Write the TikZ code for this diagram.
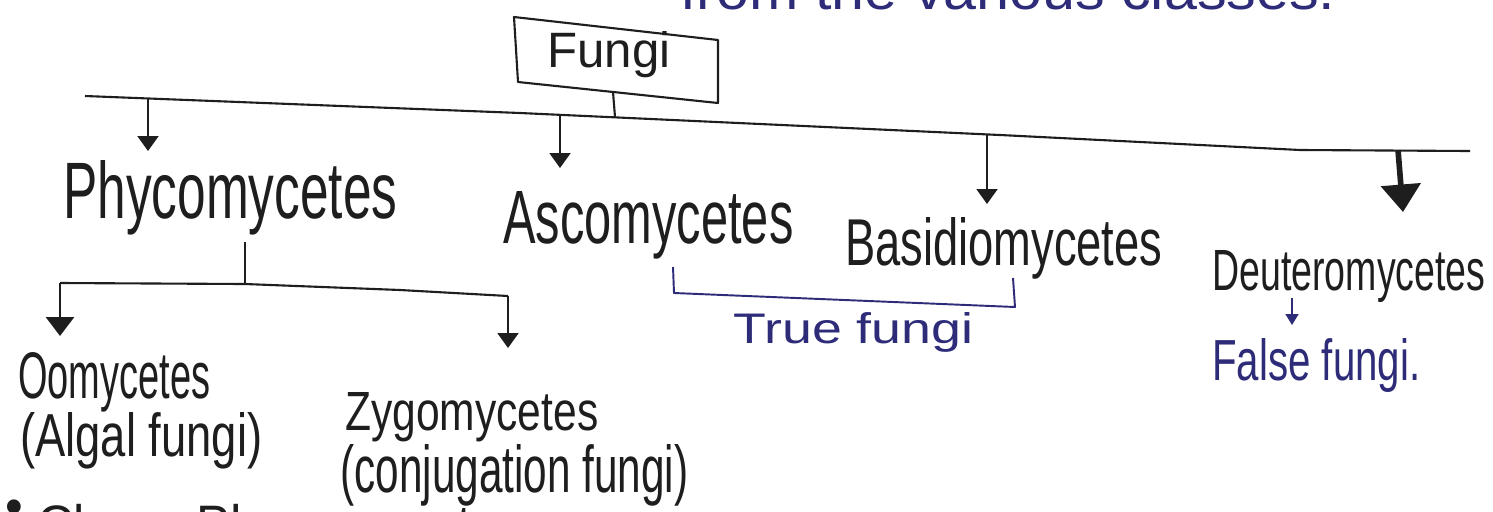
\documentclass[tikz,border=0pt]{standalone}
\usepackage{fontspec}
\setmainfont{Liberation Sans}
\usetikzlibrary{arrows.meta}
\newlength\pxu \setlength\pxu{0.02cm}
\newcommand\hw[3]{\resizebox{#1\pxu}{#2\pxu}{#3}}
\definecolor{ink}{HTML}{1E1E1E}
\definecolor{blueink}{HTML}{2E2C78}
\begin{document}
\begin{tikzpicture}[x=0.02cm,y=-0.02cm,
  lbl/.style={anchor=base west,inner sep=0pt,text=ink},
  bl/.style={anchor=base west,inner sep=0pt,text=blueink},
  ln/.style={draw=ink,line width=1.2pt,line join=round},
  arr/.style={ln,-{Triangle[width=0.42cm,length=0.3cm]}},
  midarr/.style={ln,line width=1.6pt,-{Triangle[width=0.56cm,length=0.38cm]}},
  bigarr/.style={draw=ink,line width=3.2pt,-{Triangle[width=0.78cm,length=0.55cm]}},
  blarr/.style={draw=blueink,line width=1pt,-{Triangle[width=0.26cm,length=0.22cm]}},
  blln/.style={draw=blueink,line width=1.1pt,line join=round}]
\useasboundingbox (0,0) rectangle (1493,511);
\clip (0,0) rectangle (1493,511);
\fill[white] (0,0) rectangle (1493,511);

% text cut off at the top and bottom edges, as in the reference
\node[bl] (top) at (680,9) {\hw{655}{40}{from the various classes.}};
\node[lbl] (cls) at (5,542) {\hw{520}{42}{\raisebox{0.33em}{•} Class: Phycomycetes}};

% Fungi box
\node[lbl] (fungi) at (547,67) {\hw{123}{36}{Fungi}};
\draw[ln] (514,17) -- (718,40) -- (718,103) -- (518,82) -- cycle;
\coordinate (fb) at (613,92);

% main line
\draw[ln] (85,96) -- (520,113) -- (1000,135) -- (1300,150) -- (1470,151);
\coordinate (j0) at (615,117);
\coordinate (j1) at (148,99);
\coordinate (j2) at (560,115);
\coordinate (j3) at (987,134);
\coordinate (j4) at (1398,150);
\coordinate (t1) at (148,151);
\coordinate (t2) at (560,168);
\coordinate (t3) at (987,204);
\coordinate (t4) at (1403,212);
\draw[ln] (fb) -- (j0);
\draw[arr] (j1) -- (t1);
\draw[arr] (j2) -- (t2);
\draw[arr] (j3) -- (t3);
\draw[bigarr] (j4) -- (t4);

% classes
\node[lbl] (phy) at (63,218) {\hw{334}{58}{Phycomycetes}};
\node[lbl] (asc) at (503,243) {\hw{290}{52}{Ascomycetes}};
\node[lbl] (bas) at (845,265) {\hw{317}{48}{Basidiomycetes}};
\node[lbl] (deu) at (1212,290) {\hw{273}{40}{Deuteromycetes}};

% Phycomycetes branch
\coordinate (ps) at (245,242);
\coordinate (pj) at (245,284);
\coordinate (b1) at (60,283);
\coordinate (b2) at (508,296);
\coordinate (u1) at (60,336);
\coordinate (u2) at (508,348);
\draw[ln] (ps) -- (pj);
\draw[ln] (b1) -- (pj) -- (400,290) -- (b2);
\draw[midarr] (b1) -- (u1);
\draw[arr] (b2) -- (u2);

\node[lbl] (oom) at (18,398) {\hw{192}{46}{Oomycetes}};
\node[lbl] (alg) at (20,456) {\hw{242}{44}{(Algal fungi)}};
\node[lbl] (zyg) at (345,430) {\hw{253}{38}{Zygomycetes}};
\node[lbl] (con) at (340,492) {\hw{348}{48}{(conjugation fungi)}};

% True fungi bracket
\coordinate (k1) at (673,267);
\coordinate (k2) at (674,293);
\coordinate (k3) at (1015,307);
\coordinate (k4) at (1013,278);
\draw[blln] (k1) -- (k2) -- (k3) -- (k4);
\node[bl] (tru) at (733,343) {\hw{240}{31}{True fungi}};

% False fungi
\coordinate (d1) at (1292,298);
\coordinate (d2) at (1292,325);
\draw[blarr] (d1) -- (d2);
\node[bl] (fal) at (1212,380) {\hw{208}{42}{False fungi.}};
\end{tikzpicture}
\end{document}
